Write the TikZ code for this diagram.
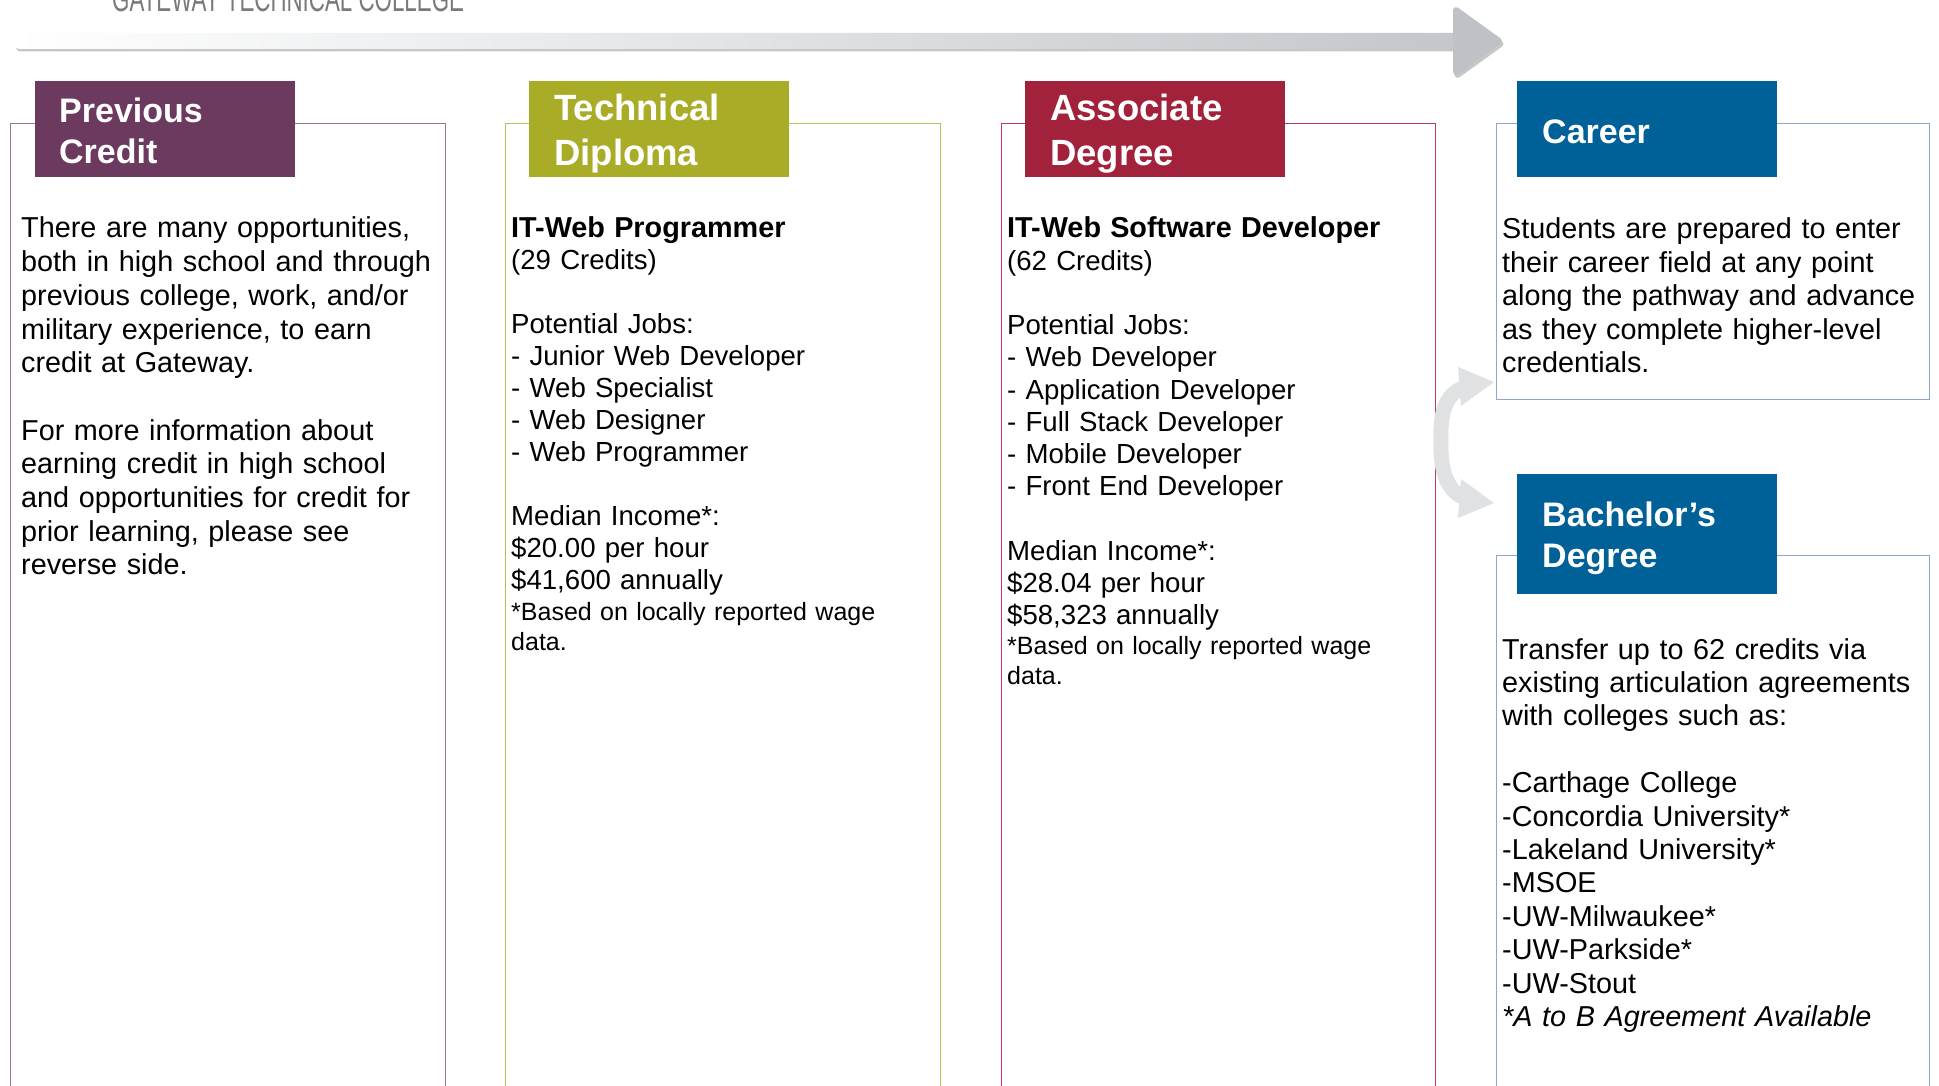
\documentclass[tikz,border=0pt]{standalone}
\usepackage{fontspec}
\setmainfont{Liberation Sans}
\usepackage{graphicx}
\definecolor{pcpurple}{HTML}{6B3A5E}
\definecolor{tdolive}{HTML}{A9AC27}
\definecolor{adred}{HTML}{A1223A}
\definecolor{carblue}{HTML}{006098}
\definecolor{pcborder}{HTML}{9A7693}
\definecolor{tdborder}{HTML}{BCC05A}
\definecolor{adborder}{HTML}{BE3A55}
\definecolor{blborder}{HTML}{8DA8CA}
\definecolor{shaftgray}{HTML}{C3C7CB}
\definecolor{headgray}{HTML}{BEC2C6}
\definecolor{curvegray}{HTML}{DFE1E3}
\definecolor{titlegray}{HTML}{7A7A7A}
\begin{document}
\begin{tikzpicture}[x=1pt,y=-1pt,
  panel/.style={draw, line width=1.3pt, anchor=north west, inner sep=0pt},
  hbox/.style={anchor=north west, inner sep=0pt, minimum width=260pt, minimum height=96pt},
  hlabel/.style={anchor=west, inner sep=0pt, text width=215pt, align=left, text=white,
    font={\bfseries\fontsize{34}{41}\selectfont}},
  hlabelbig/.style={hlabel, font={\bfseries\fontsize{36.5}{44.5}\selectfont}},
  body/.style={anchor=base west, inner sep=0pt, align=left, text width=#1},
  bodyA/.style={body=425pt, font={\fontsize{28.8}{33.7}\selectfont}},
  bodyC/.style={body=425pt, font={\fontsize{28.8}{33.4}\selectfont}},
  bodyB/.style={body=425pt, font={\fontsize{27.6}{32.0}\selectfont}},
  bodyD/.style={body=425pt, font={\fontsize{27.6}{32.25}\selectfont}},
  foot/.style={body=425pt, font={\fontsize{25}{30.5}\selectfont}},
  curvearrow/.style={curvegray, line width=15pt}
]
\useasboundingbox (0,0) rectangle (1939,1086);
\clip (0,0) rectangle (1939,1086);
\fill[white] (0,0) rectangle (1939,1086);

% title (cut by top edge)
\node[anchor=base west, inner sep=0pt, text=titlegray] (title) at (112,12)
  {\scalebox{0.62}[1]{\fontsize{36}{36}\selectfont GATEWAY TECHNICAL COLLEGE}};

% big timeline arrow
\fill[black!22, rounded corners=4pt] (16,36) rectangle (1456,51.5);
\shade[left color=white, right color=shaftgray, rounded corners=4pt] (15,33) rectangle (1457,49);
\filldraw[fill=black!22, draw=black!22, line width=6pt, line join=round]
  (1457.5,13) -- (1500.5,44) -- (1457.5,75) -- cycle;
\filldraw[fill=headgray, draw=headgray, line width=6pt, line join=round]
  (1456,10) -- (1499,41) -- (1456,72) -- cycle;

% panels
\node[panel, draw=pcborder, minimum width=435pt, minimum height=1000pt] (box1) at (10,123) {};
\node[panel, draw=tdborder, minimum width=435pt, minimum height=1000pt] (box2) at (505,123) {};
\node[panel, draw=adborder, minimum width=434pt, minimum height=1000pt] (box3) at (1000.5,123) {};
\node[panel, draw=blborder, minimum width=433pt, minimum height=276pt] (box4) at (1496,123) {};
\node[panel, draw=blborder, minimum width=433pt, minimum height=560pt] (box5) at (1496,555) {};

% headers
\node[hbox, fill=pcpurple] (h1) at (35,81) {};
\node[hbox, fill=tdolive] (h2) at (529,81) {};
\node[hbox, fill=adred] (h3) at (1025,81) {};
\node[hbox, fill=carblue] (h4) at (1517,81) {};
\node[hbox, fill=carblue, minimum height=120pt] (h5) at (1517,474) {};
\node[hlabel] (h1t) at ([xshift=24pt, yshift=-1.2pt]h1.west) {Previous\\Credit};
\node[hlabelbig] (h2t) at ([xshift=25pt, yshift=-4.3pt]h2.west) {Technical\\Diploma};
\node[hlabelbig] (h3t) at ([xshift=25pt, yshift=-4.3pt]h3.west) {Associate\\Degree};
\node[hlabel] (h4t) at ([xshift=25pt, yshift=-2.5pt]h4.west) {Career};
\node[hlabel] (h5t) at ([xshift=25pt, yshift=-3.7pt]h5.west) {Bachelor’s\\Degree};

% curved arrows from Associate Degree to Career and Bachelor's
\coordinate (fork) at (1441,440);
\coordinate (toCareer) at (1494,382);
\coordinate (toBach) at (1494,503);
\draw[curvearrow] (fork) .. controls (1440,412) and (1446,394) .. (1463,388);
\draw[curvearrow] (fork) .. controls (1440,468) and (1446,490) .. (1463,497);
\fill[curvegray] (1458,367) -- (toCareer) -- (1461,406) -- cycle;
\fill[curvegray] (1461,479) -- (toBach) -- (1458,518) -- cycle;

% texts
\node[bodyA] (t1) at (21,238) {There are many opportunities,\\
both in high school and through\\
previous college, work, and/or\\
military experience, to earn\\
credit at Gateway.\\[33.7pt]
For more information about\\
earning credit in high school\\
and opportunities for credit for\\
prior learning, please see\\
reverse side.};

\node[bodyB] (t2) at (511,238) {{\fontsize{28.8}{32}\selectfont\bfseries IT-Web Programmer}\\
(29 Credits)\\[32pt]
Potential Jobs:\\
- Junior Web Developer\\
- Web Specialist\\
- Web Designer\\
- Web Programmer\\[32pt]
Median Income*:\\
\$20.00 per hour\\
\$41,600 annually};
\node[foot] (f2) at (511,620) {*Based on locally reported wage\\data.};

\node[bodyD] (t3) at (1007,238) {{\fontsize{28.8}{32.25}\selectfont\bfseries IT-Web Software Developer}\\
(62 Credits)\\[32.25pt]
Potential Jobs:\\
- Web Developer\\
- Application Developer\\
- Full Stack Developer\\
- Mobile Developer\\
- Front End Developer\\[32.25pt]
Median Income*:\\
\$28.04 per hour\\
\$58,323 annually};
\node[foot] (f3) at (1007,654) {*Based on locally reported wage\\data.};

\node[bodyC] (t4) at (1502,239) {Students are prepared to enter\\
their career field at any point\\
along the pathway and advance\\
as they complete higher-level\\
credentials.};

\node[bodyC] (t5) at (1502,659) {Transfer up to 62 credits via\\
existing articulation agreements\\
with colleges such as:\\[33.4pt]
-Carthage College\\
-Concordia University*\\
-Lakeland University*\\
-MSOE\\
-UW-Milwaukee*\\
-UW-Parkside*\\
-UW-Stout\\
\textit{*A to B Agreement Available}};
\end{tikzpicture}
\end{document}
